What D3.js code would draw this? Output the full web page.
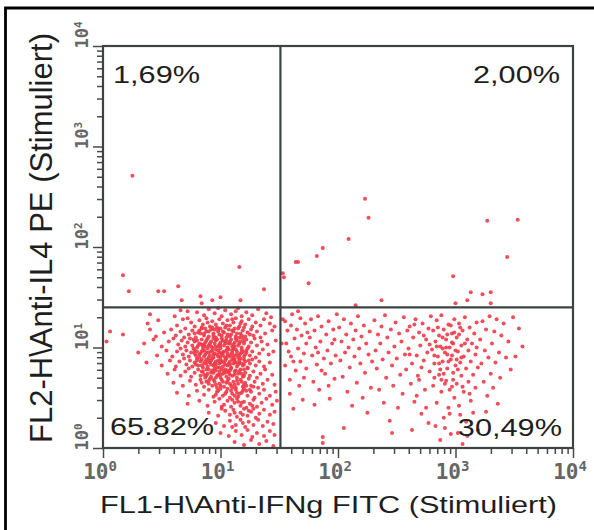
<!DOCTYPE html>
<html>
<head>
<meta charset="utf-8">
<script src="https://cdn.jsdelivr.net/npm/d3@7"></script>
<style>
html, body { margin: 0; padding: 0; background: #fff; }
svg { display: block; }
</style>
</head>
<body>
<div id="chart"></div>
<script>
// Axis decades (log10) and labels
const decades = [0, 1, 2, 3, 4];
const xTitle = "FL1-H\\Anti-IFNg FITC (Stimuliert)";
const yTitle = "FL2-H\\Anti-IL4 PE (Stimuliert)";
// quadrant percentages: upper left, upper right, lower left, lower right
const quadrantLabels = ["1,69%", "2,00%", "65.82%", "30,49%"];

// Quadrant gates and events, all given as 100 * log10(intensity), [FL1, FL2]
const gateFL1 = 151;
const gateFL2 = 140;

const ulEvents = [
  [25,271],[17,172],[22,156],[47,156],[52,156],[64,161],[67,147],[83,151],[84,144],
  [93,147],[100,150],[116,180],[117,147],[137,158]
];

const urEvents = [
  [153,174],[154,170],[164,185],[166,185],[175,164],[182,191],[187,199],[223,248],
  [226,229],[209,208],[327,226],[353,227],[344,190],[298,171],[313,155],[323,153],
  [330,155],[310,147],[300,144],[330,144],[237,147],[215,142]
];

const llEvents = [
  [40,133],[61,131],[72,136],[86,132],[90,138],[95,134],[101,131],[104,137],[109,133],[113,136],
  [118,131],[122,135],[127,132],[139,134],[143,130],[80,135],[98,139],[115,139],[66,137],[132,138],
  [38,124],[47,127],[63,122],[68,128],[75,125],[78,121],[82,127],[85,123],[88,129],[91,121],
  [93,126],[96,123],[99,128],[102,124],[104,120],[106,127],[108,122],[111,125],[113,129],[116,121],
  [118,126],[121,123],[124,128],[127,121],[130,125],[134,122],[137,128],[142,124],[146,121],[84,120],
  [97,120],[110,128],[120,120],[72,129],[89,125],
  [6,116],[17,113],[40,118],[45,111],[52,115],[58,118],[62,112],[66,116],[70,119],[73,113],
  [76,117],[79,110],[81,115],[84,119],[86,112],[88,116],[90,111],[92,118],[94,114],[96,110],
  [98,116],[100,119],[101,112],[103,115],[105,110],[107,118],[109,113],[111,116],[113,111],[115,119],
  [117,114],[119,117],[121,111],[123,115],[126,118],[128,112],[131,116],[134,110],[138,114],[144,117],
  [69,110],[83,114],[95,118],[108,111],[116,110],[99,113],[87,119],[125,113],[78,114],[112,119],
  [3,106],[35,104],[43,108],[50,101],[56,106],[60,109],[64,103],[67,107],[70,101],[72,105],
  [74,109],[76,102],[78,106],[80,100],[82,104],[84,108],[85,101],[87,105],[89,109],[90,102],
  [92,106],[93,100],[95,104],[97,108],[98,101],[100,105],[101,109],[103,102],[104,106],[106,100],
  [107,104],[109,108],[110,101],[112,105],[113,109],[115,102],[117,106],[118,100],[120,104],[122,108],
  [124,101],[126,105],[129,109],[131,102],[135,106],[140,103],[147,107],[77,108],[86,103],[94,109],
  [99,103],[105,107],[111,103],[119,109],[91,104],[96,101],[102,107],[108,104],[114,107],[81,102],
  [30,95],[46,92],[54,97],[59,91],[63,96],[66,99],[68,93],[71,97],[73,91],[75,95],
  [77,99],[79,92],[80,96],[82,90],[83,94],[85,98],[86,91],[88,95],[89,99],[91,92],
  [92,96],[94,90],[95,94],[96,98],[98,91],[99,95],[100,99],[102,92],[103,96],[104,90],
  [106,94],[107,98],[108,91],[110,95],[111,99],[112,92],[114,96],[115,90],[117,94],[118,98],
  [120,91],[122,95],[123,99],[125,92],[127,96],[130,90],[133,94],[136,98],[141,93],[145,96],
  [87,93],[93,97],[97,93],[101,94],[105,97],[109,93],[113,98],[116,92],[119,96],[84,96],
  [90,90],[100,91],[106,99],[121,93],[78,94],
  [37,85],[50,82],[57,87],[62,81],[65,86],[69,89],[71,83],[74,87],[76,81],[78,85],
  [80,89],[81,82],[83,86],[85,80],[86,84],[88,88],[89,81],[91,85],[93,89],[94,82],
  [96,86],[97,80],[99,84],[100,88],[102,81],[103,85],[105,89],[106,82],[108,86],[109,80],
  [111,84],[112,88],[114,81],[116,85],[117,89],[119,82],[121,86],[123,80],[125,84],[127,88],
  [130,82],[133,86],[137,81],[142,85],[92,83],[98,87],[104,83],[110,88],[115,83],[120,88],
  [87,86],[95,84],[101,86],[107,84],[113,85],[118,84],[84,88],[90,87],[124,87],[79,83],
  [55,74],[61,78],[66,72],[70,76],[73,79],[75,71],[78,75],[81,78],[83,72],[85,76],
  [87,70],[89,74],[90,78],[92,71],[94,75],[95,79],[97,72],[99,76],[100,70],[102,74],
  [104,78],[105,71],[107,75],[109,79],[110,72],[112,76],[114,70],[115,74],[117,78],[119,71],
  [121,75],[123,79],[125,72],[128,76],[131,70],[134,74],[138,78],[144,73],[93,77],[98,73],
  [103,76],[108,73],[113,77],[118,74],[88,78],[96,70],[106,77],[120,78],[86,73],[101,78],
  [60,65],[68,62],[74,67],[79,63],[83,68],[86,61],[88,66],[91,69],[93,62],[95,66],
  [97,60],[99,64],[101,68],[103,61],[105,65],[107,69],[109,62],[111,66],[113,60],[115,64],
  [117,68],[119,61],[121,65],[124,69],[126,62],[129,66],[132,60],[136,64],[140,68],[146,63],
  [100,62],[106,67],[112,63],[118,66],[94,68],[110,60],[122,62],[90,64],[84,65],[128,61],
  [63,55],[73,52],[80,57],[86,53],[90,58],[94,51],[97,56],[100,59],[102,52],[105,56],
  [108,50],[110,54],[113,58],[115,51],[118,55],[120,59],[123,52],[126,56],[129,50],[133,54],
  [137,58],[142,52],[147,56],[112,52],[104,54],[119,57],[96,53],[125,58],[109,57],[116,54],
  [72,44],[82,47],[89,42],[95,46],[99,49],[103,43],[106,47],[109,41],[112,45],[114,49],
  [117,42],[120,46],[122,40],[125,44],[128,48],[131,41],[135,45],[139,49],[144,43],[148,47],
  [110,48],[118,45],[101,41],[127,42],[115,46],
  [90,35],[98,32],[104,37],[108,33],[111,38],[114,31],[117,35],[120,39],[123,32],[126,36],
  [130,30],[133,34],[137,38],[142,33],[146,36],[119,33],[112,35],[128,39],[101,39],[124,37],
  [96,25],[103,22],[108,27],[113,23],[117,28],[121,21],[124,26],[128,23],[132,28],[136,22],
  [140,26],[145,24],[119,25],[110,21],
  [100,15],[107,12],[113,17],[118,13],[123,18],[127,11],[131,15],[137,12],[142,17],[146,13],
  [112,6],[120,3],[126,8],[133,4],[139,7],[145,2],
  // dense core
  [82,117],[86,114],[90,116],[94,112],[98,118],[102,116],[106,113],[110,117],[114,114],[118,112],
  [80,107],[84,103],[88,107],[92,101],[96,107],[100,102],[104,104],[108,106],[112,101],[116,104],
  [120,106],[78,97],[82,93],[86,97],[90,95],[94,93],[98,97],[102,95],[106,92],[110,97],
  [114,93],[118,95],[122,97],[80,87],[84,82],[88,84],[92,87],[96,83],[100,85],[104,87],
  [108,83],[112,86],[116,87],[120,83],[84,76],[88,72],[92,75],[96,77],[100,73],[104,75],
  [108,77],[112,73],[116,76],[120,72],[90,67],[96,63],[102,66],[108,64],[114,67],[120,63],
  [98,57],[106,59],[114,55],[122,57],[93,120],[105,122],[117,124],[87,101],[111,90],[99,80]
];

const lrEvents = [
  [152,104],[153,128],[155,126],[156,104],[157,117],[158,96],[159,68],[159,54],[160,122],[160,91],
  [161,133],[162,86],[163,109],[164,77],[165,118],[166,99],[167,62],[168,129],[168,86],[169,112],
  [170,48],[171,94],[172,124],[173,79],[173,104],[174,115],[155,82],[162,39],[166,136],[171,70],
  [176,110],[177,128],[178,92],[179,66],[180,117],[181,100],[182,83],[183,131],[184,58],[185,106],
  [186,121],[187,11],[187,5],[188,89],[189,74],[190,113],[191,97],[192,126],[193,49],[194,84],
  [195,104],[196,118],[197,69],[198,92],[199,133],[180,43],[186,77],[192,62],[197,108],[183,95],
  [201,120],[202,87],[203,106],[204,71],[205,128],[206,95],[207,113],[208,56],[209,100],[210,80],
  [211,124],[212,42],[213,108],[214,91],[215,117],[216,65],[217,131],[218,99],[219,84],[220,111],
  [221,50],[222,122],[223,75],[224,104],[225,35],[226,93],[227,116],[228,60],[229,86],[205,20],
  [231,127],[232,97],[233,79],[234,113],[235,58],[236,104],[237,121],[238,88],[239,45],[240,132],
  [241,70],[242,110],[243,95],[244,27],[245,118],[246,82],[247,62],[248,101],[249,125],[250,89],
  [251,40],[252,114],[253,73],[254,106],[255,54],[256,130],[257,93],[258,78],[259,117],[246,15],
  [260,99],[261,121],[262,64],[263,84],[264,110],[265,46],[266,128],[267,92],[268,72],[269,115],
  [270,102],[271,34],[272,124],[273,87],[274,58],[275,108],[276,95],[277,119],[278,76],[279,131],
  [263,18],[267,52],[271,80],[275,40],[278,103],[261,93],[265,123],[269,68],[273,112],[277,25],
  [280,98],[281,117],[281,62],[282,84],[283,106],[284,127],[284,45],[285,91],[286,73],[286,112],
  [287,101],[288,132],[288,56],[289,86],[290,118],[290,30],[291,95],[292,67],[292,108],[293,79],
  [294,123],[294,40],[295,100],[296,88],[296,14],[297,114],[297,61],[298,75],[298,104],[299,128],
  [299,50],[283,22],[287,8],[291,20],[295,34],[282,70],[289,99],[293,113],[297,92],[300,82],
  [301,110],[301,64],[302,96],[303,124],[303,42],[304,85],[305,102],[305,72],[306,117],[307,56],
  [307,91],[308,130],[309,79],[309,26],[310,108],[311,66],[311,97],[312,120],[313,47],[313,86],
  [314,104],[315,73],[315,35],[316,114],[317,60],[317,93],[318,125],[319,80],[319,18],[302,15],
  [306,4],[310,12],[304,33],[312,54],[318,100],
  [321,108],[322,84],[323,126],[324,66],[325,97],[326,118],[327,52],[328,90],[329,131],[330,74],
  [331,104],[332,60],[333,116],[334,85],[335,128],[336,44],[337,95],[338,70],[339,112],[326,36],
  [341,124],[343,90],[345,106],[347,78],[349,130],[351,91],[354,119],[357,101],
  // denser part around 10^3
  [282,92],[285,120],[287,78],[289,110],[291,64],[292,100],[294,86],[296,122],[298,68],[300,97],
  [302,78],[303,113],[305,90],[306,61],[308,104],[284,101],[288,68],[293,93],[297,105],[301,88],
  [304,120],[290,74],[299,115],[286,84],[295,58]
];

const width = 594, height = 530;
const margin = { top: 46, right: 21, bottom: 82, left: 103 };
const plotW = width - margin.left - margin.right;
const plotH = height - margin.top - margin.bottom;
const stretch = 1.28; // the scan is stretched horizontally

const toValue = v => Math.pow(10, v / 100);

const svg = d3.select("#chart").append("svg")
  .attr("width", width)
  .attr("height", height);

// outer frame (only left and top edges are inside the picture)
svg.append("path")
  .attr("d", `M5.5,${height} V8 H${width}`)
  .attr("fill", "none")
  .attr("stroke", "#000")
  .attr("stroke-width", 2.8);

const g = svg.append("g")
  .attr("transform", `translate(${margin.left},${margin.top})`);

const x = d3.scaleLog().domain([1, 1e4]).range([0, plotW]);
const y = d3.scaleLog().domain([1, 1e4]).range([plotH, 0]);

const isMajor = t => Math.abs(Math.log10(t) - Math.round(Math.log10(t))) < 1e-9;
const majorTicks = decades.map(d => Math.pow(10, d));
const minorTicks = x.ticks().filter(t => !isMajor(t));

// events
const events = [].concat(ulEvents, urEvents, llEvents, lrEvents);
g.append("g")
  .selectAll("circle")
  .data(events)
  .join("circle")
  .attr("cx", d => x(toValue(d[0])))
  .attr("cy", d => y(toValue(d[1])))
  .attr("r", 2)
  .attr("fill", "#ef3a48")
  .attr("fill-opacity", 0.9);

// axes ticks
const tickColor = "#4a4a4a";
function styleTicks(sel) {
  sel.select(".domain").remove();
  sel.selectAll("line").attr("stroke", tickColor).attr("stroke-width", 1.5);
  sel.selectAll("text").remove();
}

g.append("g")
  .attr("transform", `translate(0,${plotH})`)
  .call(d3.axisBottom(x).tickValues(minorTicks).tickSize(6))
  .call(styleTicks);
g.append("g")
  .attr("transform", `translate(0,${plotH})`)
  .call(d3.axisBottom(x).tickValues(majorTicks).tickSize(10))
  .call(styleTicks);
g.append("g")
  .call(d3.axisLeft(y).tickValues(minorTicks).tickSize(6))
  .call(styleTicks);
g.append("g")
  .call(d3.axisLeft(y).tickValues(majorTicks).tickSize(10))
  .call(styleTicks);

// tick labels 10^n
const labelColor = "#666";
const xLab = g.append("g").selectAll("text")
  .data(decades)
  .join("text")
  .attr("x", d => x(Math.pow(10, d)) - 3)
  .attr("y", plotH + 31)
  .attr("text-anchor", "middle")
  .attr("font-family", "DejaVu Sans Mono, monospace")
  .attr("font-weight", "bold")
  .attr("font-size", 21)
  .attr("fill", labelColor);
xLab.append("tspan").text("10");
xLab.append("tspan").attr("dy", -8).attr("font-size", 14).text(d => d);

const yLab = g.append("g").selectAll("text")
  .data(decades)
  .join("text")
  .attr("transform", d => `translate(-15,${y(Math.pow(10, d)) - 11}) rotate(-90)`)
  .attr("text-anchor", "middle")
  .attr("font-family", "DejaVu Sans Mono, monospace")
  .attr("font-weight", "bold")
  .attr("font-size", 17)
  .attr("fill", labelColor);
yLab.append("tspan").text("10");
yLab.append("tspan").attr("dy", -6).attr("font-size", 11).text(d => d);

// plot border and quadrant gates
const lineColor = "#3c4443";
g.append("rect")
  .attr("width", plotW)
  .attr("height", plotH)
  .attr("fill", "none")
  .attr("stroke", lineColor)
  .attr("stroke-width", 2.2);
g.append("line")
  .attr("x1", x(toValue(gateFL1))).attr("x2", x(toValue(gateFL1)))
  .attr("y1", 0).attr("y2", plotH)
  .attr("stroke", lineColor).attr("stroke-width", 2.2);
g.append("line")
  .attr("x1", 0).attr("x2", plotW)
  .attr("y1", y(toValue(gateFL2))).attr("y2", y(toValue(gateFL2)))
  .attr("stroke", lineColor).attr("stroke-width", 2.2);

// quadrant percentages
const qPos = [
  { x: 10, y: 37, anchor: "start" },
  { x: plotW - 13, y: 37, anchor: "end" },
  { x: 7, y: plotH - 13, anchor: "start" },
  { x: plotW - 11, y: plotH - 12, anchor: "end" }
];
g.append("g").selectAll("text")
  .data(quadrantLabels)
  .join("text")
  .attr("transform", (d, i) => `translate(${qPos[i].x},${qPos[i].y}) scale(${stretch},1)`)
  .attr("text-anchor", (d, i) => qPos[i].anchor)
  .attr("font-family", "Liberation Sans, Arial, sans-serif")
  .attr("font-size", 24)
  .attr("fill", "#1e1e1e")
  .text(d => d);

// axis titles
svg.append("text")
  .attr("transform", `translate(${(100 + 557) / 2},513) scale(${stretch},1)`)
  .attr("text-anchor", "middle")
  .attr("font-family", "Liberation Sans, Arial, sans-serif")
  .attr("font-size", 24)
  .attr("fill", "#1e1e1e")
  .text(xTitle);

svg.append("text")
  .attr("transform", `translate(52,238) rotate(-90)`)
  .attr("text-anchor", "middle")
  .attr("font-family", "Liberation Sans, Arial, sans-serif")
  .attr("font-size", 31)
  .attr("fill", "#1e1e1e")
  .text(yTitle);
</script>
</body>
</html>
